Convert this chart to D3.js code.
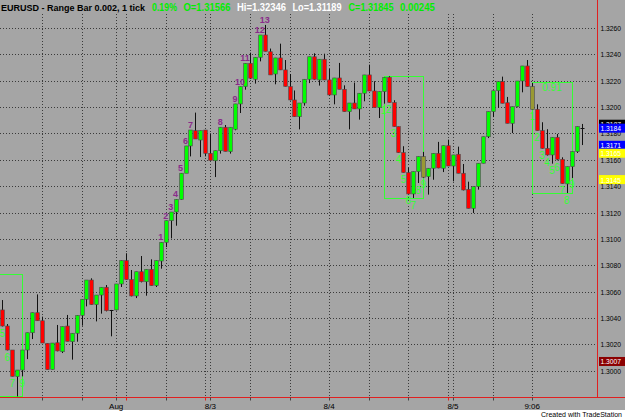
<!DOCTYPE html>
<html lang="en">
<head>
<meta charset="UTF-8"/>
<title>EURUSD Range Bar</title>
<script src="https://d3js.org/d3.v7.min.js"></script>
<style>
    body { margin: 0; background: #fff; }
    svg { display: block; }
    text { font-family: "Liberation Sans", Arial, sans-serif; }
</style>
</head>
<body>
<script>
    // ---- data ----
    var opens = [1.30461,1.30339,1.30157,1.29955,1.30005,1.30157,1.30288,1.30440,1.30379,1.30208,
        1.30010,1.30212,1.30144,1.30339,1.30220,1.30284,1.30420,1.30542,1.30688,1.30501,
        1.30574,1.30633,1.30455,1.30461,1.30658,1.30835,1.30691,1.30567,1.30751,1.30675,
        1.30769,1.30645,1.30832,1.30974,1.31138,1.31204,1.31300,1.31498,1.31705,1.31821,
        1.31750,1.31826,1.31649,1.31593,1.31669,1.31847,1.31662,1.31832,1.32024,1.32155,
        1.32332,1.32211,1.32378,1.32547,1.32420,1.32251,1.32373,1.32282,1.32155,1.32054,
        1.31927,1.32031,1.32211,1.32382,1.32206,1.32363,1.32206,1.32092,1.32221,1.32135,
        1.31965,1.32031,1.31986,1.32105,1.32244,1.32122,1.31996,1.32117,1.32226,1.32034,
        1.31852,1.31654,1.31503,1.31341,1.31510,1.31624,1.31472,1.31536,1.31649,1.31536,
        1.31707,1.31553,1.31642,1.31498,1.31376,1.31232,1.31396,1.31574,1.31775,1.31965,
        1.32124,1.32193,1.32033,1.31877,1.32003,1.32198,1.32312,1.32155,1.31983,1.31821,
        1.31687,1.31637,1.31771,1.31604,1.31417,1.31548,1.31662,1.31845];
    var highs = [1.30536,1.30354,1.30157,1.30005,1.30157,1.30288,1.30440,1.30579,1.30410,1.30208,
        1.30210,1.30347,1.30334,1.30423,1.30284,1.30420,1.30542,1.30688,1.30701,1.30574,
        1.30633,1.30650,1.30461,1.30658,1.30835,1.30891,1.30764,1.30751,1.30870,1.30769,
        1.30845,1.30835,1.30974,1.31138,1.31204,1.31300,1.31498,1.31705,1.31826,1.31958,
        1.31821,1.31826,1.31795,1.31669,1.31847,1.31864,1.31847,1.32024,1.32155,1.32332,
        1.32413,1.32378,1.32547,1.32623,1.32444,1.32373,1.32481,1.32357,1.32251,1.32126,
        1.32031,1.32211,1.32382,1.32408,1.32363,1.32405,1.32289,1.32221,1.32335,1.32165,
        1.32031,1.32186,1.32105,1.32244,1.32322,1.32196,1.32117,1.32226,1.32234,1.32052,
        1.31852,1.31703,1.31541,1.31510,1.31624,1.31660,1.31536,1.31649,1.31736,1.31707,
        1.31753,1.31637,1.31700,1.31568,1.31434,1.31396,1.31574,1.31775,1.31965,1.32124,
        1.32193,1.32231,1.32077,1.32003,1.32198,1.32312,1.32357,1.32183,1.32021,1.31885,
        1.31832,1.31771,1.31796,1.31619,1.31548,1.31662,1.31852,1.31872];
    var lows = [1.30336,1.30154,1.29957,1.29805,1.29957,1.30088,1.30240,1.30379,1.30210,1.30008,
        1.30010,1.30147,1.30134,1.30223,1.30084,1.30220,1.30342,1.30488,1.30501,1.30374,
        1.30433,1.30450,1.30261,1.30458,1.30635,1.30691,1.30564,1.30551,1.30670,1.30569,
        1.30645,1.30635,1.30774,1.30938,1.31004,1.31100,1.31298,1.31505,1.31626,1.31758,
        1.31621,1.31626,1.31595,1.31469,1.31647,1.31664,1.31647,1.31824,1.31955,1.32132,
        1.32213,1.32178,1.32347,1.32423,1.32244,1.32173,1.32281,1.32157,1.32051,1.31926,
        1.31831,1.32011,1.32182,1.32208,1.32163,1.32205,1.32089,1.32021,1.32135,1.31965,
        1.31831,1.31986,1.31905,1.32044,1.32122,1.31996,1.31917,1.32026,1.32034,1.31852,
        1.31652,1.31503,1.31341,1.31310,1.31424,1.31462,1.31336,1.31449,1.31536,1.31507,
        1.31553,1.31437,1.31498,1.31368,1.31232,1.31196,1.31374,1.31574,1.31765,1.31924,
        1.31993,1.32029,1.31877,1.31803,1.31998,1.32112,1.32155,1.31983,1.31821,1.31685,
        1.31632,1.31571,1.31596,1.31419,1.31348,1.31462,1.31652,1.31712];
    var closes = [1.30339,1.30157,1.29957,1.30005,1.30157,1.30288,1.30440,1.30379,1.30210,1.30008,
        1.30210,1.30150,1.30334,1.30223,1.30284,1.30420,1.30542,1.30688,1.30501,1.30574,
        1.30633,1.30455,1.30457,1.30658,1.30835,1.30691,1.30567,1.30751,1.30675,1.30769,
        1.30645,1.30835,1.30974,1.31138,1.31204,1.31300,1.31498,1.31705,1.31826,1.31758,
        1.31821,1.31649,1.31595,1.31669,1.31847,1.31664,1.31847,1.32024,1.32155,1.32332,
        1.32219,1.32378,1.32547,1.32423,1.32244,1.32373,1.32282,1.32157,1.32054,1.31927,
        1.32031,1.32211,1.32382,1.32211,1.32363,1.32206,1.32092,1.32221,1.32135,1.31965,
        1.32031,1.31986,1.32105,1.32244,1.32122,1.31996,1.32117,1.32226,1.32034,1.31852,
        1.31654,1.31503,1.31341,1.31510,1.31624,1.31468,1.31536,1.31649,1.31538,1.31707,
        1.31553,1.31637,1.31498,1.31371,1.31232,1.31396,1.31574,1.31775,1.31965,1.32124,
        1.32193,1.32029,1.31877,1.32003,1.32198,1.32312,1.32155,1.31983,1.31821,1.31687,
        1.31637,1.31771,1.31604,1.31419,1.31548,1.31662,1.31852,1.31845];

    var paintedBars = [85, 107];                 // bars painted olive

    // setup count (green numbers) and the boxes round each setup
    var setupIdx = [0,1,2,3,4, 77,78,79,80,81,82,83,84,85, 107,108,109,110,111,112,113,114,115];
    var setupTxt = ["5","6","7","8","9", "1","2","3","4","5","6","7","8","9", "1","2","3","4","5","6","7","8","9"];
    var boxStart = [-4, 77, 107];
    var boxEnd = [4, 85, 115];
    var boxTop = [1.30731, 1.32239, 1.32189];
    var boxBottom = [1.29808, 1.31311, 1.31346];
    var boxNote = ["", "", "0.91"];

    // countdown (purple numbers)
    var countIdx = [32,33,34,35,36,37,38,44,47,48,49,52,53];
    var countTxt = ["1","2","3","4","5","6","7","8","9","10","11","12","13"];

    // time axis
    var gridBars = [8,16,23,25,33,41,42,50,58,66,74,82,90,91,99,107];
    var breakBars = [25, 41, 90];
    var dateBars = [23, 42, 66, 91, 107];
    var dateLabels = ["Aug", "8/3", "8/4", "8/5", "9:06"];

    // price axis
    var priceTicks = [1.3000,1.3020,1.3040,1.3060,1.3080,1.3100,1.3120,1.3140,1.3160,1.3180,1.3200,1.3220,1.3240,1.3260];
    var markerPrices = [1.3187, 1.3184, 1.3171, 1.3165, 1.3145, 1.3007];
    var markerColors = ["#000000", "#0000ff", "#0000ff", "#ffff00", "#ffff00", "#8b0000"];

    // ---- layout ----
    var w = 625, h = 418;
    var plotR = 597.5, plotB = 397.5;

    var xScale = d3.scaleBand()
        .domain(d3.range(opens.length))
        .range([-0.18, 584.2]);
    var step = xScale.step();
    function xc(i) { return xScale(0) + step * (i + 0.5); }

    var yScale = d3.scaleLinear()
        .domain([1.3000, 1.3260])
        .range([370.7, 28.0]);

    var svg = d3.select("body").append("svg")
        .attr("width", w)
        .attr("height", h);

    svg.append("rect").attr("width", w).attr("height", h).attr("fill", "#ffffff");
    svg.append("rect").attr("width", w).attr("height", 410).attr("fill", "#a5a5a5");

    svg.append("clipPath").attr("id", "plotClip")
        .append("rect").attr("x", 0).attr("y", 0).attr("width", plotR).attr("height", plotB);

    // grid
    svg.append("g").selectAll("line")
        .data(priceTicks).enter().append("line")
        .attr("x1", 0).attr("x2", 600)
        .attr("y1", function(d) { return Math.round(yScale(d)) + 0.5; })
        .attr("y2", function(d) { return Math.round(yScale(d)) + 0.5; })
        .attr("stroke", "#3a3a3a").attr("stroke-dasharray", "1,2");

    svg.append("g").selectAll("line")
        .data(gridBars).enter().append("line")
        .attr("x1", function(d) { return Math.round(xc(d)) + 0.5; })
        .attr("x2", function(d) { return Math.round(xc(d)) + 0.5; })
        .attr("y1", 14).attr("y2", plotB)
        .attr("stroke", "#3a3a3a").attr("stroke-dasharray", "1,2");

    var plot = svg.append("g").attr("clip-path", "url(#plotClip)");

    // setup boxes
    plot.selectAll(".box")
        .data(boxStart).enter().append("rect")
        .attr("class", "box")
        .attr("x", function(d, i) { return Math.round(xc(d)) + 0.5; })
        .attr("y", function(d, i) { return Math.round(yScale(boxTop[i])) + 0.5; })
        .attr("width", function(d, i) { return Math.round(xc(boxEnd[i])) - Math.round(xc(d)); })
        .attr("height", function(d, i) { return Math.round(yScale(boxBottom[i])) - Math.round(yScale(boxTop[i])); })
        .attr("fill", "none").attr("stroke", "#33ff33").attr("stroke-width", 1);

    plot.selectAll(".note")
        .data(boxNote).enter().append("text")
        .attr("x", function(d, i) { return (xc(boxStart[i]) + xc(boxEnd[i])) / 2; })
        .attr("y", function(d, i) { return yScale(boxTop[i]) + 9; })
        .attr("text-anchor", "middle")
        .attr("font-size", "10px")
        .attr("fill", "#33ff33")
        .text(function(d) { return d; });

    // candles
    var bars = d3.range(opens.length);
    plot.selectAll(".wick")
        .data(bars).enter().append("line")
        .attr("class", "wick")
        .attr("x1", function(i) { return Math.round(xc(i)) + 0.5; })
        .attr("x2", function(i) { return Math.round(xc(i)) + 0.5; })
        .attr("y1", function(i) { return yScale(highs[i]); })
        .attr("y2", function(i) { return yScale(lows[i]); })
        .attr("stroke", "#111").attr("stroke-width", 1);

    function barColor(i) {
        if (paintedBars.indexOf(i) >= 0) return "#999933";
        return closes[i] >= opens[i] ? "#00ff00" : "#ff0000";
    }
    var bodies = bars.filter(function(i) { return Math.abs(closes[i] - opens[i]) > 0.00004; });
    var dojis = bars.filter(function(i) { return Math.abs(closes[i] - opens[i]) <= 0.00004; });

    plot.selectAll(".body")
        .data(bodies).enter().append("rect")
        .attr("class", "body")
        .attr("x", function(i) { return Math.round(xc(i)) + 0.5 - 1.8; })
        .attr("y", function(i) { return yScale(Math.max(opens[i], closes[i])); })
        .attr("width", 3.6)
        .attr("height", function(i) { return Math.abs(yScale(opens[i]) - yScale(closes[i])); })
        .attr("fill", barColor)
        .attr("stroke", "#4a4a4a").attr("stroke-width", 0.6);

    plot.selectAll(".doji")
        .data(dojis).enter().append("line")
        .attr("class", "doji")
        .attr("x1", function(i) { return Math.round(xc(i)) - 1.5; })
        .attr("x2", function(i) { return Math.round(xc(i)) + 2.5; })
        .attr("y1", function(i) { return Math.round(yScale(closes[i])) + 0.5; })
        .attr("y2", function(i) { return Math.round(yScale(closes[i])) + 0.5; })
        .attr("stroke", "#111").attr("stroke-width", 1);

    // setup numbers below the bars
    plot.selectAll(".setup")
        .data(setupIdx).enter().append("text")
        .attr("class", "setup")
        .attr("x", function(d) { return xc(d); })
        .attr("y", function(d) { return yScale(lows[d]) + 10.5; })
        .attr("text-anchor", "middle")
        .attr("font-size", "10px")
        .attr("fill", "#33ff33")
        .text(function(d, i) { return setupTxt[i]; });

    // countdown numbers above the bars
    plot.selectAll(".count")
        .data(countIdx).enter().append("text")
        .attr("class", "count")
        .attr("x", function(d) { return xc(d); })
        .attr("y", function(d) { return yScale(highs[d]) - 2; })
        .attr("text-anchor", "middle")
        .attr("font-size", "9px")
        .attr("font-weight", "bold")
        .attr("fill", "#8a2a8a")
        .text(function(d, i) { return countTxt[i]; });

    // axis frame
    svg.append("line").attr("x1", plotR).attr("x2", plotR).attr("y1", 0).attr("y2", plotB)
        .attr("stroke", "#e02020").attr("stroke-width", 1);
    svg.append("line").attr("x1", 0).attr("x2", w).attr("y1", plotB).attr("y2", plotB)
        .attr("stroke", "#e02020").attr("stroke-width", 1);

    // time ticks and labels
    svg.append("g").selectAll("line")
        .data(gridBars).enter().append("line")
        .attr("x1", function(d) { return Math.round(xc(d)) + 0.5; })
        .attr("x2", function(d) { return Math.round(xc(d)) + 0.5; })
        .attr("y1", plotB).attr("y2", plotB + 3)
        .attr("stroke", function(d) { return breakBars.indexOf(d) >= 0 ? "#e02020" : "#444"; });

    svg.append("g").selectAll("text")
        .data(dateBars).enter().append("text")
        .attr("x", function(d) { return xc(d); })
        .attr("y", 409)
        .attr("text-anchor", "middle")
        .attr("font-size", "8px")
        .attr("fill", "#000")
        .text(function(d, i) { return dateLabels[i]; });

    // price labels
    svg.append("g").selectAll("text")
        .data(priceTicks).enter().append("text")
        .attr("x", 600.5)
        .attr("y", function(d) { return yScale(d) + 3; })
        .attr("font-size", "8px")
        .attr("textLength", 20.5)
        .attr("lengthAdjust", "spacingAndGlyphs")
        .attr("fill", "#000")
        .text(function(d) { return d3.format(".4f")(d); });

    // last-value markers on the price axis
    var markers = svg.append("g").selectAll("g")
        .data(markerPrices).enter().append("g");
    markers.append("rect")
        .attr("x", 599)
        .attr("y", function(d) { return yScale(d) - 4.5; })
        .attr("width", 26).attr("height", 9)
        .attr("fill", function(d, i) { return markerColors[i]; });
    markers.append("text")
        .attr("x", 600.5)
        .attr("y", function(d) { return yScale(d) + 3; })
        .attr("font-size", "8px")
        .attr("textLength", 20.5)
        .attr("lengthAdjust", "spacingAndGlyphs")
        .attr("fill", "#ffffff")
        .text(function(d) { return d3.format(".4f")(d); });

    // title line
    var head = svg.append("g").attr("font-size", "10px").attr("font-weight", "bold");
    head.append("text").attr("x", 1).attr("y", 11).attr("font-size", "9px").attr("textLength", 144)
        .attr("lengthAdjust", "spacingAndGlyphs").attr("fill", "#000")
        .text("EURUSD - Range Bar 0.002, 1 tick");
    head.append("text").attr("x", 152).attr("y", 11).attr("textLength", 25)
        .attr("lengthAdjust", "spacingAndGlyphs").attr("fill", "#00ee00").text("0.19%");
    head.append("text").attr("x", 183.5).attr("y", 11).attr("textLength", 47)
        .attr("lengthAdjust", "spacingAndGlyphs").attr("fill", "#00ee00").text("O=1.31566");
    head.append("text").attr("x", 237).attr("y", 11).attr("textLength", 49)
        .attr("lengthAdjust", "spacingAndGlyphs").attr("fill", "#ffffff").text("Hi=1.32346");
    head.append("text").attr("x", 292.5).attr("y", 11).attr("textLength", 49)
        .attr("lengthAdjust", "spacingAndGlyphs").attr("fill", "#ffffff").text("Lo=1.31189");
    head.append("text").attr("x", 348.5).attr("y", 11).attr("textLength", 45)
        .attr("lengthAdjust", "spacingAndGlyphs").attr("fill", "#00ee00").text("C=1.31845");
    head.append("text").attr("x", 400).attr("y", 11).attr("textLength", 35)
        .attr("lengthAdjust", "spacingAndGlyphs").attr("fill", "#00ee00").text("0.00245");

    svg.append("text")
        .attr("x", 622).attr("y", 417)
        .attr("text-anchor", "end")
        .attr("font-size", "7px")
        .attr("fill", "#000")
        .text("Created with TradeStation");
</script>
</body>
</html>
